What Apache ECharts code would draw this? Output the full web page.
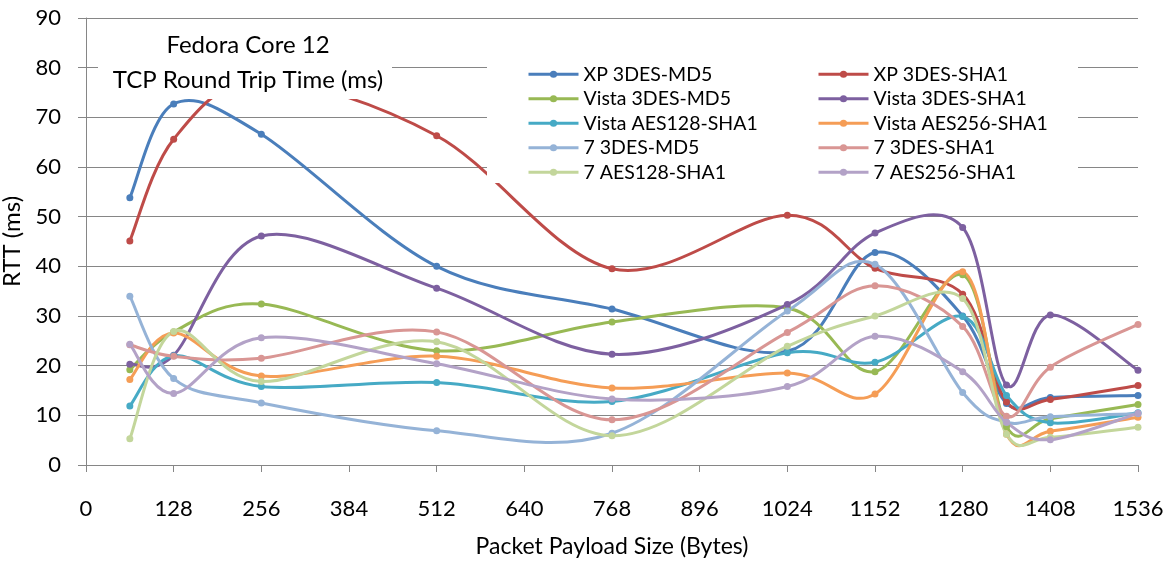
<!DOCTYPE html>
<html>
<head>
<meta charset="utf-8">
<script src="https://cdn.jsdelivr.net/npm/echarts@6/dist/echarts.min.js"></script>
<style>html,body{margin:0;padding:0;background:#fff}#c{width:1173px;height:562px}</style>
</head>
<body>
<div id="c"></div>
<script>
const payloadSizes = [64, 128, 256, 512, 768, 1024, 1152, 1280, 1344, 1408, 1536];
const xTicks = [0, 128, 256, 384, 512, 640, 768, 896, 1024, 1152, 1280, 1408, 1536];
const yTicks = [0, 10, 20, 30, 40, 50, 60, 70, 80, 90];

const xp3desMd5      = [53.8, 72.7, 66.6, 40.0, 31.4, 22.9, 42.8, 30.0, 12.4, 13.6, 14.0];
const xp3desSha1     = [45.1, 65.6, 77.5, 66.3, 39.5, 50.3, 39.6, 34.4, 12.7, 13.2, 16.0];
const vista3desMd5   = [19.2, 26.8, 32.4, 23.0, 28.8, 31.6, 18.8, 38.3, 7.7, 9.3, 12.2];
const vista3desSha1  = [20.3, 22.1, 46.1, 35.6, 22.3, 32.3, 46.7, 47.8, 16.1, 30.2, 19.1];
const vistaAes128    = [11.9, 22.0, 15.8, 16.6, 12.8, 22.6, 20.7, 29.9, 14.0, 8.5, 10.5];
const vistaAes256    = [17.2, 26.6, 17.9, 21.9, 15.5, 18.5, 14.3, 38.9, 6.2, 6.8, 9.6];
const w7_3desMd5     = [34.0, 17.4, 12.5, 6.9, 6.4, 31.0, 40.4, 14.6, 8.6, 9.7, 10.3];
const w7_3desSha1    = [24.2, 21.9, 21.5, 26.8, 9.1, 26.7, 36.1, 27.9, 9.8, 19.7, 28.3];
const w7_aes128      = [5.3, 26.9, 16.8, 24.8, 5.9, 23.9, 30.0, 33.5, 6.2, 5.6, 7.6];
const w7_aes256      = [24.3, 14.4, 25.6, 20.4, 13.3, 15.8, 25.9, 18.8, 8.6, 5.1, 10.4];

const seriesNames = ['XP 3DES-MD5', 'XP 3DES-SHA1', 'Vista 3DES-MD5', 'Vista 3DES-SHA1',
  'Vista AES128-SHA1', 'Vista AES256-SHA1', '7 3DES-MD5', '7 3DES-SHA1', '7 AES128-SHA1', '7 AES256-SHA1'];
const seriesValues = [xp3desMd5, xp3desSha1, vista3desMd5, vista3desSha1, vistaAes128, vistaAes256,
  w7_3desMd5, w7_3desSha1, w7_aes128, w7_aes256];
const colors = ['#4A7EBB', '#BE4B48', '#98B954', '#7D60A0', '#46AAC5', '#F59D56',
  '#95B3D7', '#D99694', '#C3D69B', '#B3A2C7'];

const FONT = 'Lato';
const chart = echarts.init(document.getElementById('c'), null, {renderer: 'canvas'});

// Smooth curve (Catmull-Rom style, like spreadsheet smoothing) through the
// points, positioned with the chart's own axes via api.coord.
function makeCurveRenderer(values) {
  return function (params, api) {
    if (params.dataIndex !== 0) return null;
    const pts = payloadSizes.map((x, j) => api.coord([x, values[j]]));
    const n = pts.length;
    let d = 'M' + pts[0][0] + ' ' + pts[0][1];
    for (let i = 0; i < n - 1; i++) {
      const p0 = pts[Math.max(i - 1, 0)];
      const p1 = pts[i];
      const p2 = pts[i + 1];
      const p3 = pts[Math.min(i + 2, n - 1)];
      const c1x = p1[0] + (p2[0] - p0[0]) / 6;
      const c1y = p1[1] + (p2[1] - p0[1]) / 6;
      const c2x = p2[0] - (p3[0] - p1[0]) / 6;
      const c2y = p2[1] - (p3[1] - p1[1]) / 6;
      d += ' C' + c1x + ' ' + c1y + ' ' + c2x + ' ' + c2y + ' ' + p2[0] + ' ' + p2[1];
    }
    return {
      type: 'path',
      shape: {pathData: d},
      style: {fill: null, stroke: api.visual('color'), lineWidth: 3, lineJoin: 'round', lineCap: 'round'}
    };
  };
}

const series = [];
seriesNames.forEach((name, i) => {
  const data = payloadSizes.map((x, j) => [x, seriesValues[i][j]]);
  series.push({
    name: name + ' curve',
    type: 'custom',
    renderItem: makeCurveRenderer(seriesValues[i]),
    itemStyle: {color: colors[i]},
    encode: {x: 0, y: 1},
    silent: true,
    z: 2,
    data: data
  });
  series.push({
    name: name,
    type: 'line',
    symbol: 'circle',
    symbolSize: 7,
    showSymbol: true,
    lineStyle: {width: 3, color: colors[i], opacity: 0},
    itemStyle: {color: colors[i]},
    emphasis: {disabled: true},
    z: 2,
    data: data
  });
});

const legendCommon = {
  orient: 'vertical',
  top: 62,
  padding: 0,
  itemWidth: 50,
  itemHeight: 9,
  itemGap: 0,
  z: 5,
  lineStyle: {width: 3, opacity: 1},
  textStyle: {fontFamily: FONT, fontSize: 19.5, color: '#000', lineHeight: 24.5},
  selectedMode: false
};

chart.setOption({
  animation: false,
  backgroundColor: '#fff',
  color: colors,
  grid: {left: 86, right: 35, top: 18, bottom: 97, containLabel: false, outerBoundsMode: 'none'},
  title: {
    text: 'Fedora Core 12\nTCP Round Trip Time (ms)',
    left: 243,
    textAlign: 'center',
    top: 23,
    z: 6,
    textStyle: {fontFamily: FONT, fontSize: 24, fontWeight: 'normal', color: '#000', lineHeight: 35}
  },
  graphic: [
    {type: 'rect', z: 3, silent: true, shape: {x: 98, y: 24, width: 294, height: 75}, style: {fill: '#fff'}},
    {type: 'rect', z: 3, silent: true, shape: {x: 487, y: 55, width: 591, height: 128}, style: {fill: '#fff'}}
  ],
  legend: [
    Object.assign({left: 527, data: seriesNames.filter((_, i) => i % 2 === 0)}, legendCommon),
    Object.assign({left: 817, data: seriesNames.filter((_, i) => i % 2 === 1)}, legendCommon)
  ],
  xAxis: {
    type: 'value',
    min: xTicks[0],
    max: xTicks[xTicks.length - 1],
    interval: xTicks[1] - xTicks[0],
    name: 'Packet Payload Size (Bytes)',
    nameLocation: 'middle',
    nameGap: 70,
    nameTextStyle: {fontFamily: FONT, fontSize: 23, color: '#000'},
    axisLine: {show: true, lineStyle: {color: '#868686', width: 1}},
    axisTick: {show: true, length: 7, lineStyle: {color: '#868686'}},
    axisLabel: {fontFamily: FONT, fontSize: 22, color: '#000', margin: 33, formatter: v => String(v)},
    splitLine: {show: false}
  },
  yAxis: {
    type: 'value',
    min: yTicks[0],
    max: yTicks[yTicks.length - 1],
    interval: yTicks[1] - yTicks[0],
    name: 'RTT (ms)',
    nameLocation: 'middle',
    nameGap: 46,
    nameTextStyle: {fontFamily: FONT, fontSize: 24, color: '#000'},
    axisLine: {show: true, lineStyle: {color: '#868686', width: 1}},
    axisTick: {show: true, length: 8, lineStyle: {color: '#868686'}},
    axisLabel: {fontFamily: FONT, fontSize: 22, color: '#000', margin: 25, formatter: v => String(v)},
    splitLine: {show: true, lineStyle: {color: '#868686', width: 1}}
  },
  series: series
});
</script>
</body>
</html>
